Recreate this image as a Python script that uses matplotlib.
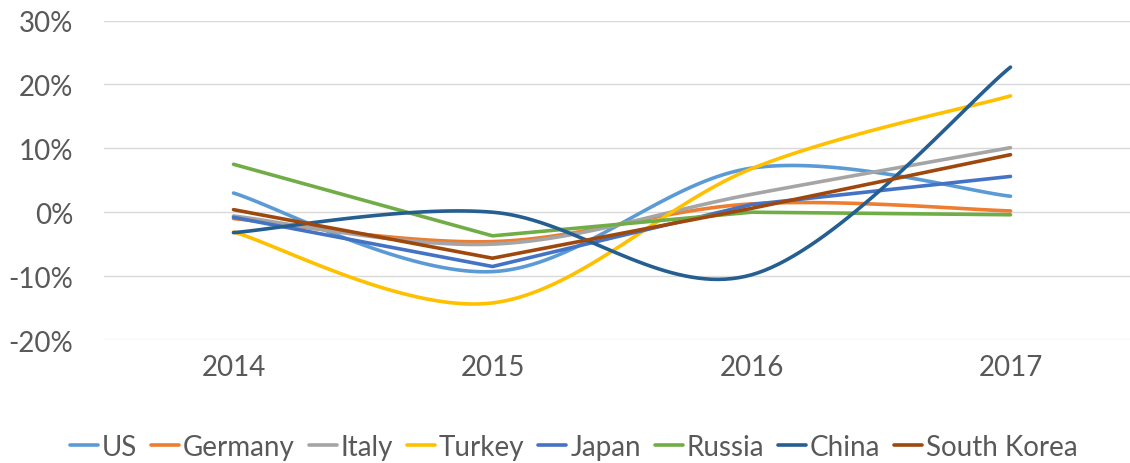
import matplotlib
matplotlib.use("Agg")
import matplotlib.pyplot as plt
from matplotlib.ticker import FuncFormatter
import numpy as np

years = ['2014', '2015', '2016', '2017']

us = [3.0, -9.3, 6.9, 2.5]
germany = [-1.0, -4.6, 1.3, 0.2]
italy = [-0.6, -5.0, 2.8, 10.1]
turkey = [-3.1, -14.2, 6.8, 18.2]
japan = [-0.8, -8.5, 1.2, 5.6]
russia = [7.5, -3.7, 0.0, -0.4]
china = [-3.2, 0.0, -9.8, 22.7]
south_korea = [0.4, -7.2, 0.6, 9.0]

series = [
    ('US', us, '#5B9BD5', True),
    ('Germany', germany, '#ED7D31', True),
    ('Italy', italy, '#A5A5A5', True),
    ('Turkey', turkey, '#FFC000', True),
    ('Japan', japan, '#4472C4', False),
    ('Russia', russia, '#70AD47', False),
    ('China', china, '#255E91', True),
    ('South Korea', south_korea, '#9E480E', False),
]


def smooth(x, y, n=40):
    # excel-like smoothing: bezier segments, control points from neighbours / 6
    x = np.asarray(x, float)
    y = np.asarray(y, float)
    pts = np.column_stack([x, y])
    out = []
    t = np.linspace(0, 1, n)
    for i in range(len(pts) - 1):
        p0 = pts[max(i - 1, 0)]
        p1 = pts[i]
        p2 = pts[i + 1]
        p3 = pts[min(i + 2, len(pts) - 1)]
        c1 = p1 + (p2 - p0) / 6
        c2 = p2 - (p3 - p1) / 6
        seg = ((1 - t) ** 3)[:, None] * p1 + (3 * (1 - t) ** 2 * t)[:, None] * c1 \
            + (3 * (1 - t) * t ** 2)[:, None] * c2 + (t ** 3)[:, None] * p2
        out.append(seg if i == 0 else seg[1:])
    out = np.vstack(out)
    return out[:, 0], out[:, 1]


plt.rcParams['font.family'] = ['Lato', 'DejaVu Sans']

fig = plt.figure(figsize=(11.3, 4.64), dpi=100)
ax = fig.add_axes([104 / 1130, 1 - 341 / 464, 1026 / 1130, (341 - 21.5) / 464])

xs = np.arange(len(years))
for name, vals, color, sm in series:
    if sm:
        sx, sy = smooth(xs, vals)
    else:
        sx, sy = xs, np.asarray(vals, float)
    ax.plot(sx, sy, color=color, lw=2.6, label=name, solid_capstyle='round',
            solid_joinstyle='round')

ax.set_ylim(-20, 30)
ax.set_yticks(np.arange(-20, 31, 10))
ax.yaxis.set_major_formatter(FuncFormatter(lambda v, p: '%d%%' % v))
ax.set_xlim(-0.5, -0.5 + 1026 / 259)
ax.set_xticks(xs)
ax.set_xticklabels(years)
ax.grid(axis='y', color='#D9D9D9', lw=1)
ax.set_axisbelow(True)
for s in ax.spines.values():
    s.set_visible(False)
ax.tick_params(length=0, labelsize=20, colors='#595959', pad=10)
ax.tick_params(axis='y', pad=22)

leg = fig.legend(loc='center', bbox_to_anchor=(574 / 1130, 1 - 448 / 464), ncol=8,
                 frameon=False, fontsize=20, handlelength=1.0, handletextpad=0.15,
                 columnspacing=0.5, labelcolor='#595959')

fig.savefig('out.png', dpi=100)
